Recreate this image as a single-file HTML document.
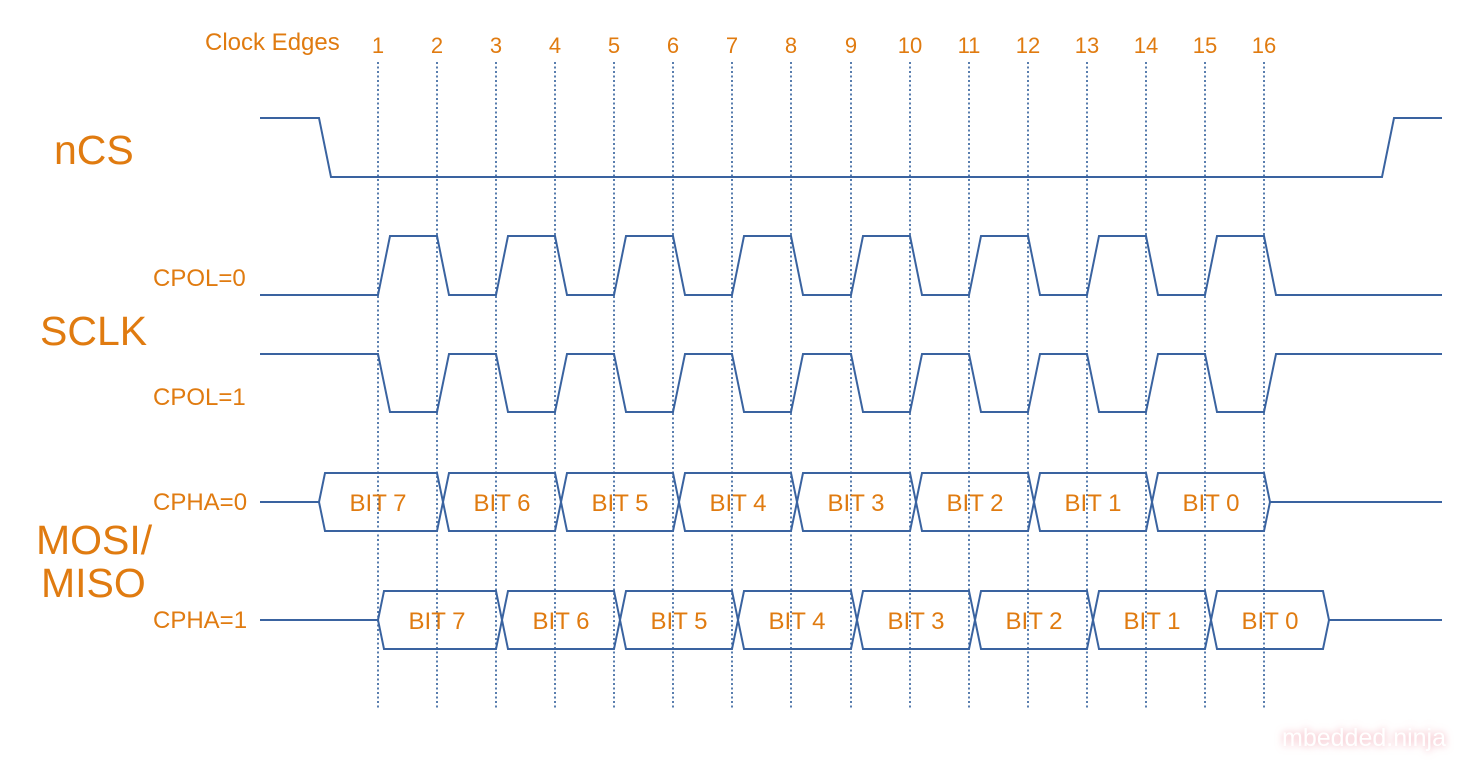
<!DOCTYPE html>
<html><head><meta charset="utf-8"><style>
html,body{margin:0;padding:0;background:#fff;}
svg{display:block;}
text{font-family:"Liberation Sans",Arial,sans-serif;fill:#e07b10;}
</style></head><body>
<svg width="1477" height="768" viewBox="0 0 1477 768" xmlns="http://www.w3.org/2000/svg">
<defs><filter id="gl" x="-20%" y="-50%" width="140%" height="200%"><feGaussianBlur stdDeviation="4"/></filter></defs>
<g stroke="#2f5d9a" stroke-width="1.6" stroke-dasharray="2,2.5">
<line x1="378" y1="62" x2="378" y2="710"/><line x1="437" y1="62" x2="437" y2="710"/><line x1="496" y1="62" x2="496" y2="710"/><line x1="555" y1="62" x2="555" y2="710"/><line x1="614" y1="62" x2="614" y2="710"/><line x1="673" y1="62" x2="673" y2="710"/><line x1="732" y1="62" x2="732" y2="710"/><line x1="791" y1="62" x2="791" y2="710"/><line x1="851" y1="62" x2="851" y2="710"/><line x1="910" y1="62" x2="910" y2="710"/><line x1="969" y1="62" x2="969" y2="710"/><line x1="1028" y1="62" x2="1028" y2="710"/><line x1="1087" y1="62" x2="1087" y2="710"/><line x1="1146" y1="62" x2="1146" y2="710"/><line x1="1205" y1="62" x2="1205" y2="710"/><line x1="1264" y1="62" x2="1264" y2="710"/>
</g>
<g fill="none" stroke="#3a63a0" stroke-width="2">
<polyline points="260,118 319,118 331,177 1382,177 1394,118 1442,118"/>
<polyline points="260,295 378,295 390,236 437,236 449,295 496,295 508,236 555,236 567,295 614,295 626,236 673,236 685,295 732,295 744,236 791,236 803,295 851,295 863,236 910,236 922,295 969,295 981,236 1028,236 1040,295 1087,295 1099,236 1146,236 1158,295 1205,295 1217,236 1264,236 1276,295 1442,295"/>
<polyline points="260,354 378,354 390,412 437,412 449,354 496,354 508,412 555,412 567,354 614,354 626,412 673,412 685,354 732,354 744,412 791,412 803,354 851,354 863,412 910,412 922,354 969,354 981,412 1028,412 1040,354 1087,354 1099,412 1146,412 1158,354 1205,354 1217,412 1264,412 1276,354 1442,354"/>
<line x1="260" y1="502" x2="319" y2="502"/><line x1="1270" y1="502" x2="1442" y2="502"/>
<polygon points="319,502 325,473 437,473 443,502 437,531 325,531"/>
<polygon points="443,502 449,473 555,473 561,502 555,531 449,531"/>
<polygon points="561,502 567,473 673,473 679,502 673,531 567,531"/>
<polygon points="679,502 685,473 791,473 797,502 791,531 685,531"/>
<polygon points="797,502 803,473 910,473 916,502 910,531 803,531"/>
<polygon points="916,502 922,473 1028,473 1034,502 1028,531 922,531"/>
<polygon points="1034,502 1040,473 1146,473 1152,502 1146,531 1040,531"/>
<polygon points="1152,502 1158,473 1264,473 1270,502 1264,531 1158,531"/>
<line x1="260" y1="620" x2="378" y2="620"/><line x1="1329" y1="620" x2="1442" y2="620"/>
<polygon points="378,620 384,591 496,591 502,620 496,649 384,649"/>
<polygon points="502,620 508,591 614,591 620,620 614,649 508,649"/>
<polygon points="620,620 626,591 732,591 738,620 732,649 626,649"/>
<polygon points="738,620 744,591 851,591 857,620 851,649 744,649"/>
<polygon points="857,620 863,591 969,591 975,620 969,649 863,649"/>
<polygon points="975,620 981,591 1087,591 1093,620 1087,649 981,649"/>
<polygon points="1093,620 1099,591 1205,591 1211,620 1205,649 1099,649"/>
<polygon points="1211,620 1217,591 1323,591 1329,620 1323,649 1217,649"/>
</g>
<g font-size="22" text-anchor="middle">
<text x="378" y="53">1</text><text x="437" y="53">2</text><text x="496" y="53">3</text><text x="555" y="53">4</text><text x="614" y="53">5</text><text x="673" y="53">6</text><text x="732" y="53">7</text><text x="791" y="53">8</text><text x="851" y="53">9</text><text x="910" y="53">10</text><text x="969" y="53">11</text><text x="1028" y="53">12</text><text x="1087" y="53">13</text><text x="1146" y="53">14</text><text x="1205" y="53">15</text><text x="1264" y="53">16</text>
</g>
<g font-size="24" text-anchor="middle">
<text x="378" y="511">BIT 7</text><text x="502" y="511">BIT 6</text><text x="620" y="511">BIT 5</text><text x="738" y="511">BIT 4</text><text x="856" y="511">BIT 3</text><text x="975" y="511">BIT 2</text><text x="1093" y="511">BIT 1</text><text x="1211" y="511">BIT 0</text>
<text x="437" y="629">BIT 7</text><text x="561" y="629">BIT 6</text><text x="679" y="629">BIT 5</text><text x="797" y="629">BIT 4</text><text x="916" y="629">BIT 3</text><text x="1034" y="629">BIT 2</text><text x="1152" y="629">BIT 1</text><text x="1270" y="629">BIT 0</text>
</g>
<text x="205" y="50" font-size="24">Clock Edges</text>
<text x="54" y="164" font-size="41">nCS</text>
<text x="40" y="345" font-size="41">SCLK</text>
<text x="36" y="554" font-size="41">MOSI/</text>
<text x="41" y="597" font-size="41">MISO</text>
<g font-size="24">
<text x="153" y="286">CPOL=0</text>
<text x="153" y="405">CPOL=1</text>
<text x="153" y="510">CPHA=0</text>
<text x="153" y="628">CPHA=1</text>
</g>
<text x="1282" y="746" font-size="25" style="fill:#f2a7b3" filter="url(#gl)">mbedded.ninja</text>
<text x="1282" y="746" font-size="25" style="fill:#ffffff">mbedded.ninja</text>
</svg>
</body></html>
